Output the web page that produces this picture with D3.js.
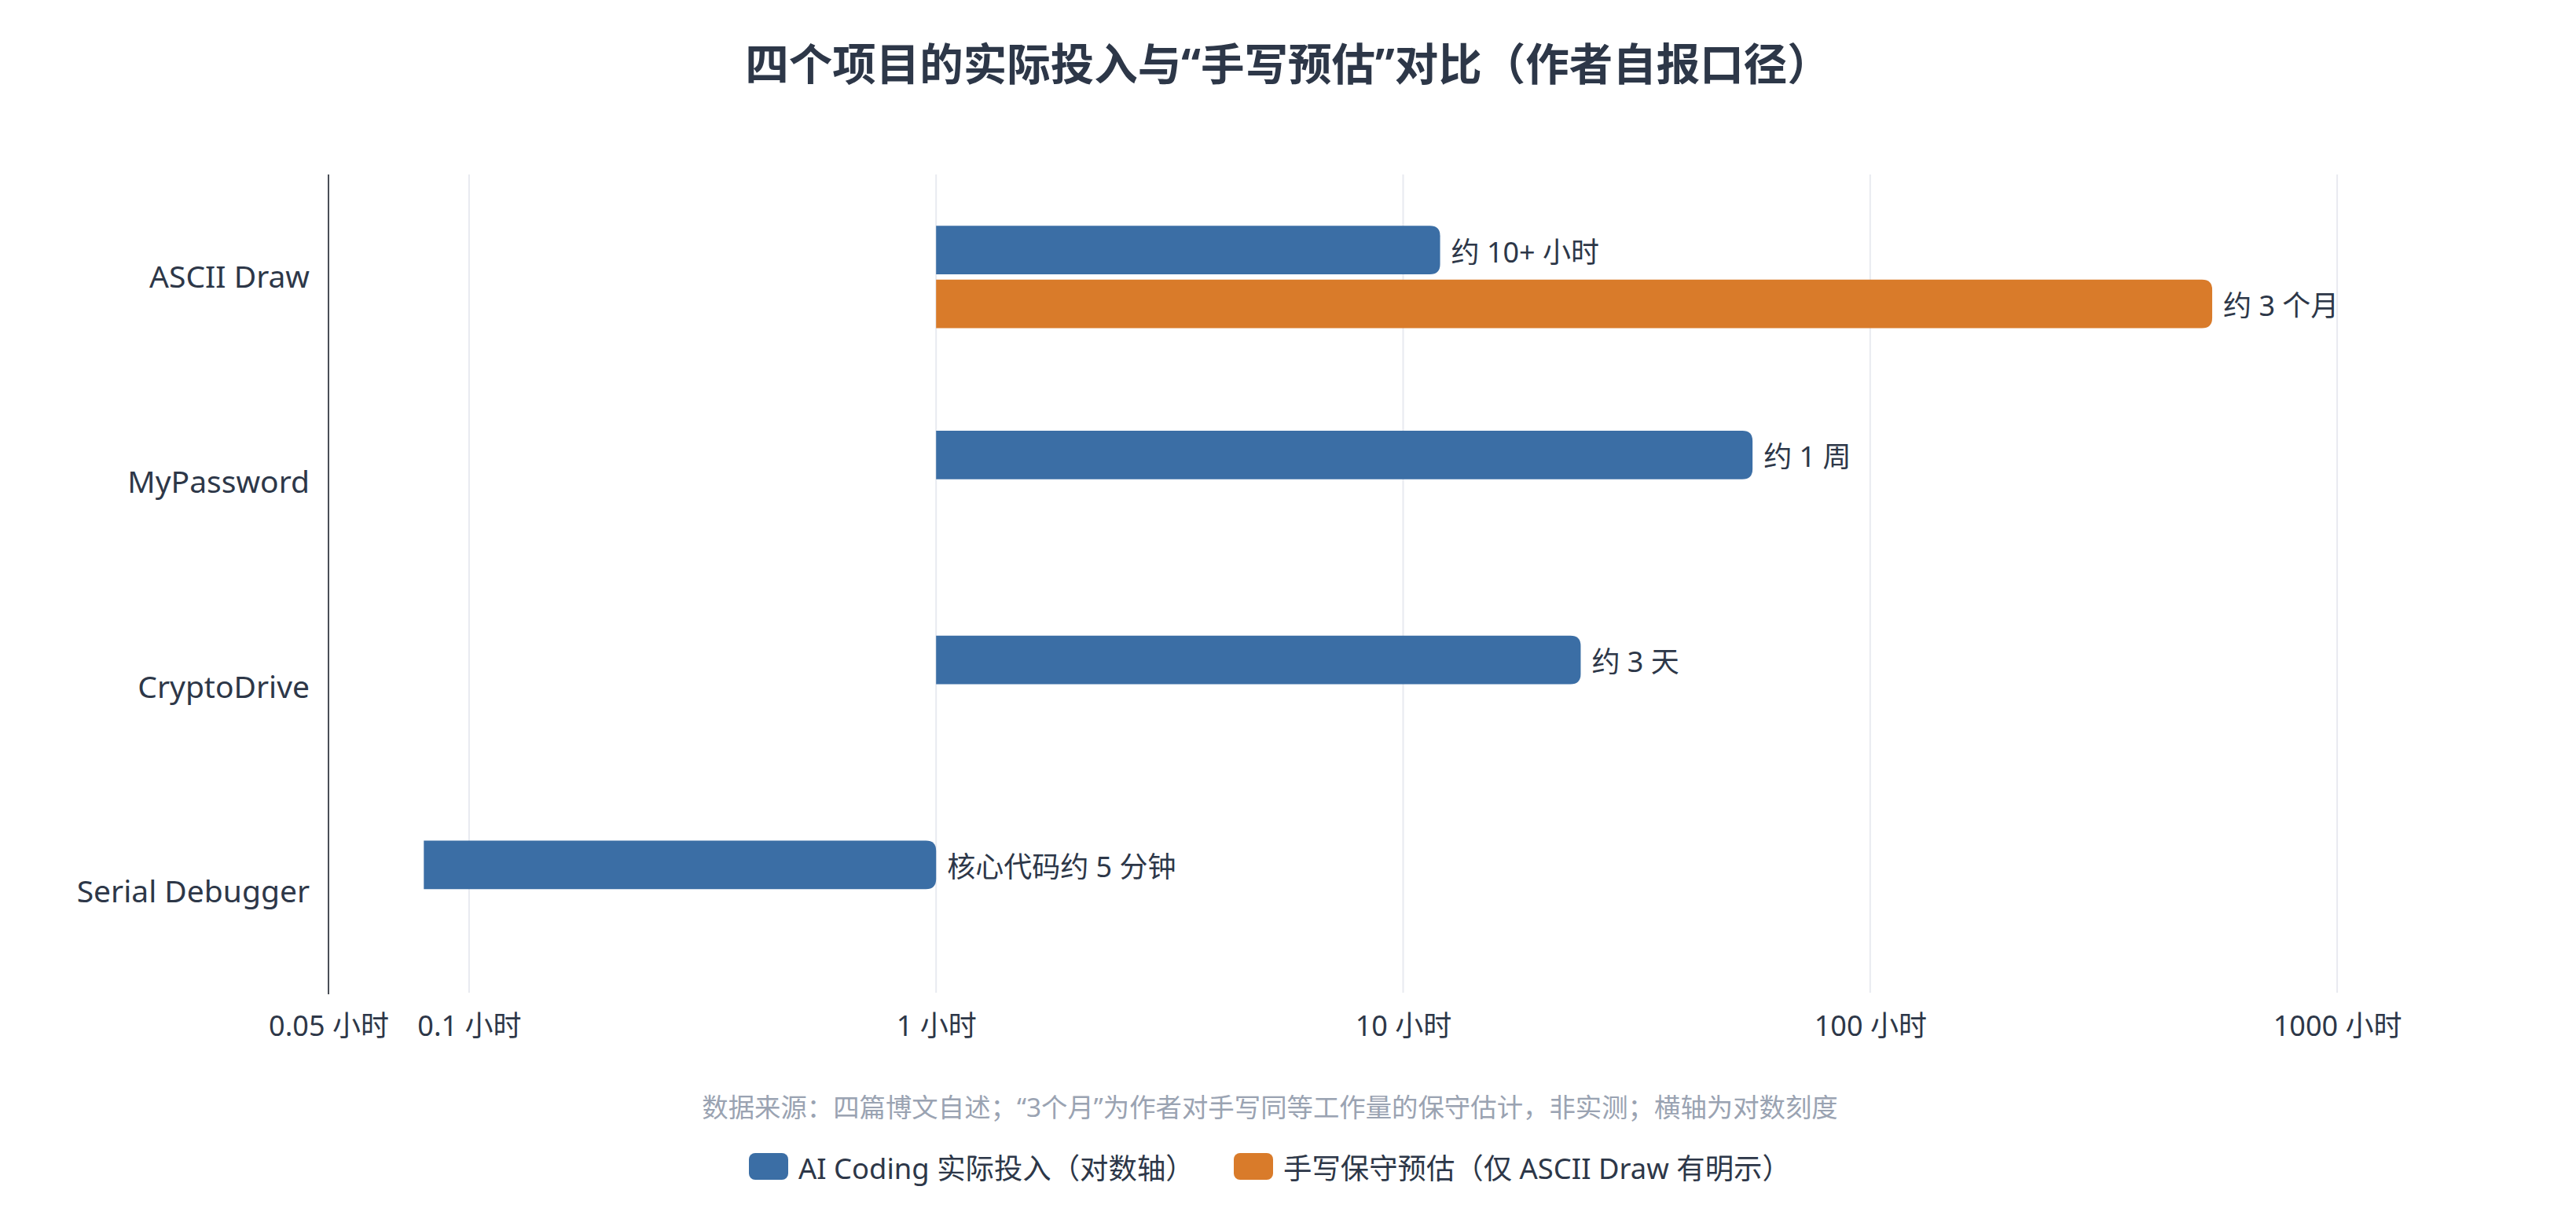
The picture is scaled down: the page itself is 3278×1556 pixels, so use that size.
<!DOCTYPE html>
<html>
<head>
<meta charset="utf-8">
<script src="https://cdn.jsdelivr.net/npm/d3@7"></script>
<style>
  html, body { margin: 0; padding: 0; background: #ffffff; }
  svg { display: block; }
  text { font-family: "Noto Sans", "Noto Sans CJK SC", sans-serif; }
</style>
</head>
<body>
<svg id="chart" width="3278" height="1556"></svg>
<script>
const categories = ["ASCII Draw", "MyPassword", "CryptoDrive", "Serial Debugger"];
const seriesNames = ["AI Coding 实际投入（对数轴）", "手写保守预估（仅 ASCII Draw 有明示）"];
const seriesColors = ["#3b6ea5", "#d97b2a"];
const aiHours = [12, 56, 24, 0.08];
const handHours = [540, null, null, null];
const aiLabels = ["约 10+ 小时", "约 1 周", "约 3 天", "核心代码约 5 分钟"];
const handLabels = ["约 3 个月", null, null, null];
const tickValues = [0.05, 0.1, 1, 10, 100, 1000];
const tickLabels = ["0.05 小时", "0.1 小时", "1 小时", "10 小时", "100 小时", "1000 小时"];
const gridValues = [0.1, 1, 10, 100, 1000];
const titleText = "四个项目的实际投入与“手写预估”对比（作者自报口径）";
const noteText = "数据来源：四篇博文自述；“3个月”为作者对手写同等工作量的保守估计，非实测；横轴为对数刻度";

const W = 3278, H = 1556;
const plot = { left: 418, top: 222, bottom: 1265, right: 3150 };
const svg = d3.select("#chart");

const x = d3.scaleLog().domain([0.05, 2000]).range([plot.left, plot.left + 594.3 * Math.log10(2000 / 0.05)]);
const y = d3.scaleBand().domain(categories).range([plot.top, plot.bottom]).paddingInner(0.5).paddingOuter(0.25);
const ys = d3.scaleBand().domain([0, 1]).range([0, y.bandwidth()]).paddingInner(0.1);

// gridlines
svg.append("g").selectAll("line").data(gridValues).join("line")
  .attr("x1", d => x(d)).attr("x2", d => x(d))
  .attr("y1", plot.top).attr("y2", plot.bottom - 2)
  .attr("stroke", "#e8eaf0").attr("stroke-width", 2);

// bars
const rows = [];
categories.forEach((c, i) => {
  if (aiHours[i] != null) rows.push({ cat: c, s: 0, v: aiHours[i], label: aiLabels[i] });
  if (handHours[i] != null) rows.push({ cat: c, s: 1, v: handHours[i], label: handLabels[i] });
});

function barPath(x0, x1, y0, h, r) {
  r = Math.min(r, (x1 - x0) / 2, h / 2);
  return `M${x0},${y0} H${x1 - r} Q${x1},${y0} ${x1},${y0 + r} V${y0 + h - r} Q${x1},${y0 + h} ${x1 - r},${y0 + h} H${x0} Z`;
}

const gBars = svg.append("g");
gBars.selectAll("path").data(rows).join("path")
  .attr("d", d => {
    const a = x(1), b = x(d.v);
    const y0 = y(d.cat) + ys(d.s);
    return barPath(Math.min(a, b), Math.max(a, b), y0, ys.bandwidth(), 13);
  })
  .attr("fill", d => seriesColors[d.s]);

gBars.selectAll("text").data(rows).join("text")
  .attr("x", d => Math.max(x(1), x(d.v)) + 14)
  .attr("y", d => y(d.cat) + ys(d.s) + ys.bandwidth() / 2 + 2)
  .attr("dominant-baseline", "central")
  .attr("font-size", 36)
  .attr("fill", "#2d3748")
  .text(d => d.label);

// left axis
svg.append("line")
  .attr("x1", plot.left).attr("x2", plot.left)
  .attr("y1", plot.top).attr("y2", plot.bottom)
  .attr("stroke", "#4a4f57").attr("stroke-width", 2);

const yAxis = svg.append("g").attr("transform", `translate(${plot.left},0)`)
  .call(d3.axisLeft(y).tickSize(0).tickPadding(24));
yAxis.select(".domain").remove();
yAxis.selectAll("text")
  .attr("font-size", 39).attr("fill", "#2d3748")
  .attr("font-family", "\"Noto Sans\", \"Noto Sans CJK SC\", sans-serif")
  .attr("dy", "0.35em");

// bottom axis
const xAxis = svg.append("g").attr("transform", `translate(0,${plot.bottom})`)
  .call(d3.axisBottom(x).tickValues(tickValues).tickSize(0)
    .tickFormat((d, i) => tickLabels[i]));
xAxis.select(".domain").remove();
xAxis.selectAll("text")
  .attr("y", 40).attr("dy", "0.35em")
  .attr("font-size", 36).attr("fill", "#2d3748")
  .attr("font-family", "\"Noto Sans\", \"Noto Sans CJK SC\", sans-serif");

// title
svg.append("text")
  .attr("x", W / 2).attr("y", 80)
  .attr("text-anchor", "middle").attr("dominant-baseline", "central")
  .attr("font-size", 55.5).attr("font-weight", 700).attr("fill", "#2d3748")
  .text(titleText);

// note
svg.append("text")
  .attr("x", 1616).attr("y", 1408)
  .attr("text-anchor", "middle").attr("dominant-baseline", "central")
  .attr("font-size", 33.4).attr("fill", "#9aa3b2")
  .text(noteText);

// legend
const legendX = [953, 1570];
const legend = svg.append("g").attr("transform", "translate(0,1484)");
const items = legend.selectAll("g").data(seriesNames).join("g")
  .attr("transform", (d, i) => `translate(${legendX[i]},0)`);
items.append("rect")
  .attr("width", 50).attr("height", 34).attr("rx", 8).attr("ry", 8)
  .attr("y", -17)
  .attr("fill", (d, i) => seriesColors[i]);
items.append("text")
  .attr("x", 63).attr("y", 2).attr("dominant-baseline", "central")
  .attr("font-size", 36.4).attr("fill", "#2d3748")
  .text(d => d);
</script>
</body>
</html>
